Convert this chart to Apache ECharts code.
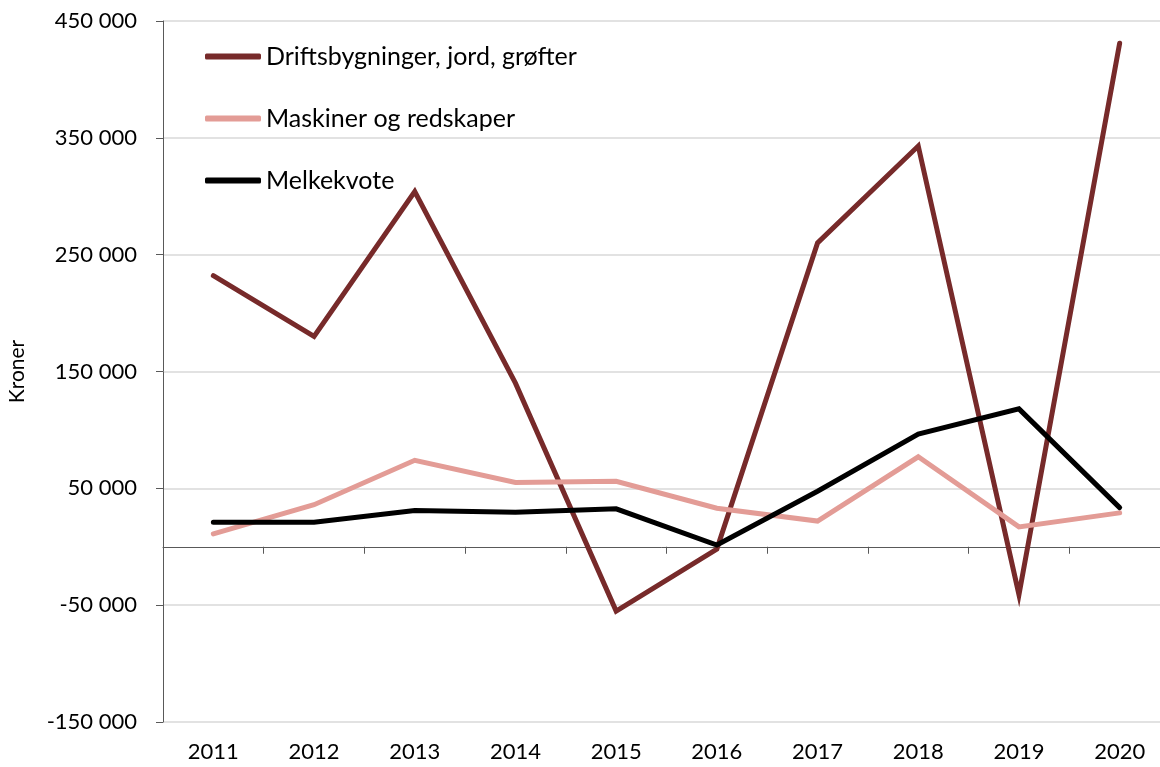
<!DOCTYPE html>
<html>
<head>
<meta charset="utf-8">
<script src="https://cdn.jsdelivr.net/npm/echarts@6/dist/echarts.min.js"></script>
<style>
  html, body { margin: 0; padding: 0; background: #fff; }
  #chart { width: 1160px; height: 767px; }
</style>
</head>
<body>
<div id="chart"></div>
<script>
var years = ['2011', '2012', '2013', '2014', '2015', '2016', '2017', '2018', '2019', '2020'];
var drifts = [232000, 180000, 304000, 140000, -55000, -2000, 260000, 343000, -41000, 431000];
var maskiner = [11000, 36000, 74000, 55000, 56000, 33000, 22000, 77000, 17000, 29000];
var melkekvote = [21000, 21000, 31000, 29500, 32500, 1500, 47500, 96500, 118000, 33500];

var fmt = function (v) {
    return String(v).replace(/\B(?=(\d{3})+(?!\d))/g, ' ');
};

var chart = echarts.init(document.getElementById('chart'));
var lineSeries = function (name, data, color) {
    return {
        name: name,
        type: 'line',
        data: data,
        xAxisIndex: 0,
        symbol: 'none',
        animation: false,
        lineStyle: { color: color, width: 5, cap: 'round', join: 'miter' },
        itemStyle: { color: color }
    };
};

chart.setOption({
    backgroundColor: '#fff',
    textStyle: { fontFamily: 'Lato', color: '#000' },
    grid: { left: 163, width: 1007, top: 21, bottom: 45, outerBoundsMode: 'none', containLabel: false },
    legend: {
        orient: 'vertical',
        left: 205,
        top: 44,
        padding: 0,
        itemWidth: 56,
        itemHeight: 6,
        itemGap: 37,
        icon: 'roundRect',
        textStyle: { fontSize: 25, color: '#000', fontFamily: 'Lato' },
        data: ['Driftsbygninger, jord, grøfter', 'Maskiner og redskaper', 'Melkekvote']
    },
    xAxis: [{
        type: 'category',
        data: years,
        position: 'bottom',
        boundaryGap: true,
        axisLine: { show: false, onZero: false },
        axisTick: { show: false },
        axisLabel: { fontSize: 22, color: '#000', margin: 19 }
    }, {
        type: 'category',
        data: years,
        position: 'bottom',
        boundaryGap: true,
        axisLine: { show: true, onZero: true, lineStyle: { color: '#595959', width: 1 } },
        axisTick: { show: true, length: 7, lineStyle: { color: '#595959' } },
        axisLabel: { show: false },
        splitLine: { show: false }
    }],
    yAxis: {
        type: 'value',
        min: -150000,
        max: 450000,
        interval: 100000,
        name: 'Kroner',
        nameLocation: 'middle',
        nameGap: 135,
        nameRotate: 90,
        nameTextStyle: { fontSize: 21, color: '#000' },
        axisLine: { show: true, lineStyle: { color: '#595959', width: 1 } },
        axisTick: { show: true, length: 7, lineStyle: { color: '#595959' } },
        axisLabel: { fontSize: 22, color: '#000', margin: 26, formatter: fmt },
        splitLine: { lineStyle: { color: '#d9d9d9', width: 1.5 } }
    },
    series: [
        lineSeries('Driftsbygninger, jord, grøfter', drifts, '#772a2a'),
        lineSeries('Maskiner og redskaper', maskiner, '#e39c96'),
        lineSeries('Melkekvote', melkekvote, '#000000')
    ]
});
</script>
</body>
</html>
